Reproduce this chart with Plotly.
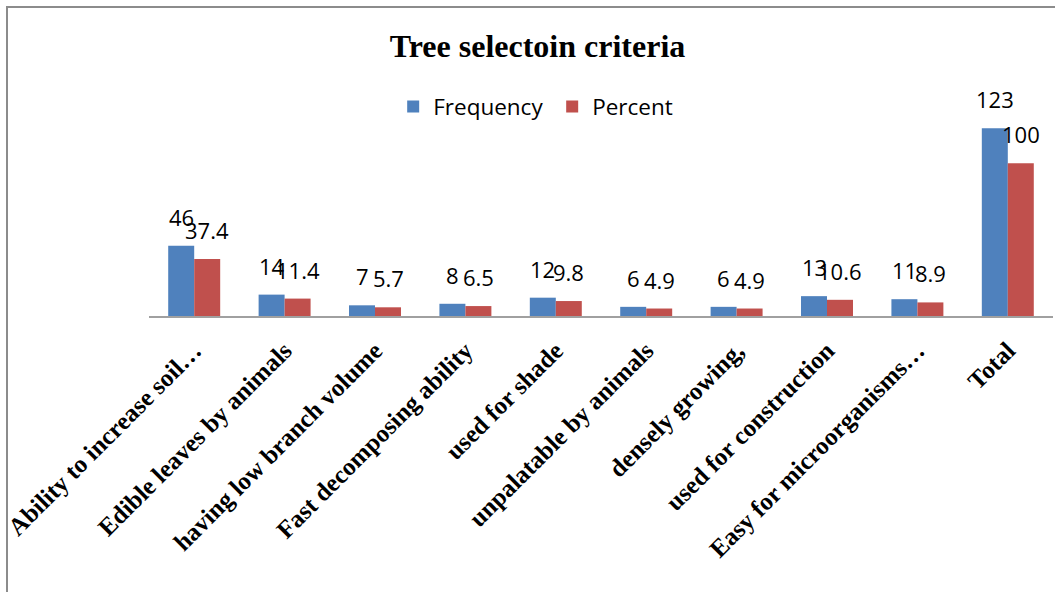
import plotly.graph_objects as go

# Tree selection criteria survey results
categories = [
    "Ability to increase soil…",
    "Edible leaves by animals",
    "having low branch volume",
    "Fast decomposing ability",
    "used for shade",
    "unpalatable by animals",
    "densely growing,",
    "used for construction",
    "Easy for microorganisms…",
    "Total",
]
frequency = [46, 14, 7, 8, 12, 6, 6, 13, 11, 123]
percent = [37.4, 11.4, 5.7, 6.5, 9.8, 4.9, 4.9, 10.6, 8.9, 100]

BLUE = "#4F81BD"
RED = "#C0504D"
NUM_FONT = dict(family="Open Sans", size=22, color="#000000")
SERIF = "Liberation Serif"

fig = go.Figure()
fig.add_trace(go.Bar(name="Frequency", x=categories, y=frequency,
                     marker=dict(color=BLUE, line=dict(width=0))))
fig.add_trace(go.Bar(name="Percent", x=categories, y=percent,
                     marker=dict(color=RED, line=dict(width=0))))

# value labels above each bar
annotations = []
for cat, f in zip(categories, frequency):
    annotations.append(dict(x=cat, y=f, text=str(f), xref="x", yref="y",
                            xshift=-13, yshift=12, yanchor="bottom",
                            showarrow=False, font=NUM_FONT))
for cat, p in zip(categories, percent):
    annotations.append(dict(x=cat, y=p, text=f"{p:g}", xref="x", yref="y",
                            xshift=13, yshift=12, yanchor="bottom",
                            showarrow=False, font=NUM_FONT))

fig.update_layout(
    width=1055, height=592,
    margin=dict(l=149, r=2, t=90, b=276),
    paper_bgcolor="white", plot_bgcolor="white",
    barmode="group", bargap=0.425, bargroupgap=0,
    title=dict(text="<b>Tree selectoin criteria</b>",
               font=dict(family=SERIF, size=32, color="#000000"),
               x=0.5095, xanchor="center", xref="container",
               y=0.922, yanchor="middle", yref="container"),
    legend=dict(orientation="h", x=0.446, xanchor="center",
                y=0.925, yanchor="middle",
                font=dict(family="Open Sans", size=22.5, color="#000000"),
                bgcolor="rgba(0,0,0,0)", traceorder="normal",
                entrywidth=114, entrywidthmode="pixels"),
    xaxis=dict(showline=True, linecolor="#A0A0A0", linewidth=2,
               ticks="", tickangle=-45, ticklabelstandoff=8,
               automargin=False,
               tickfont=dict(family=SERIF, size=25, color="#000000",
                             weight="bold"),
               showgrid=False, zeroline=False),
    yaxis=dict(range=[0, 148], visible=False, showgrid=False,
               zeroline=False, fixedrange=True, automargin=False),
    annotations=annotations,
    shapes=[dict(type="rect", xref="paper", yref="paper",
                 x0=(7 - 149) / 904, x1=1.2, y0=-2, y1=(316 - 7) / 226,
                 line=dict(color="#8C8C8C", width=2), layer="below")],
)

fig.write_html("out.html")
